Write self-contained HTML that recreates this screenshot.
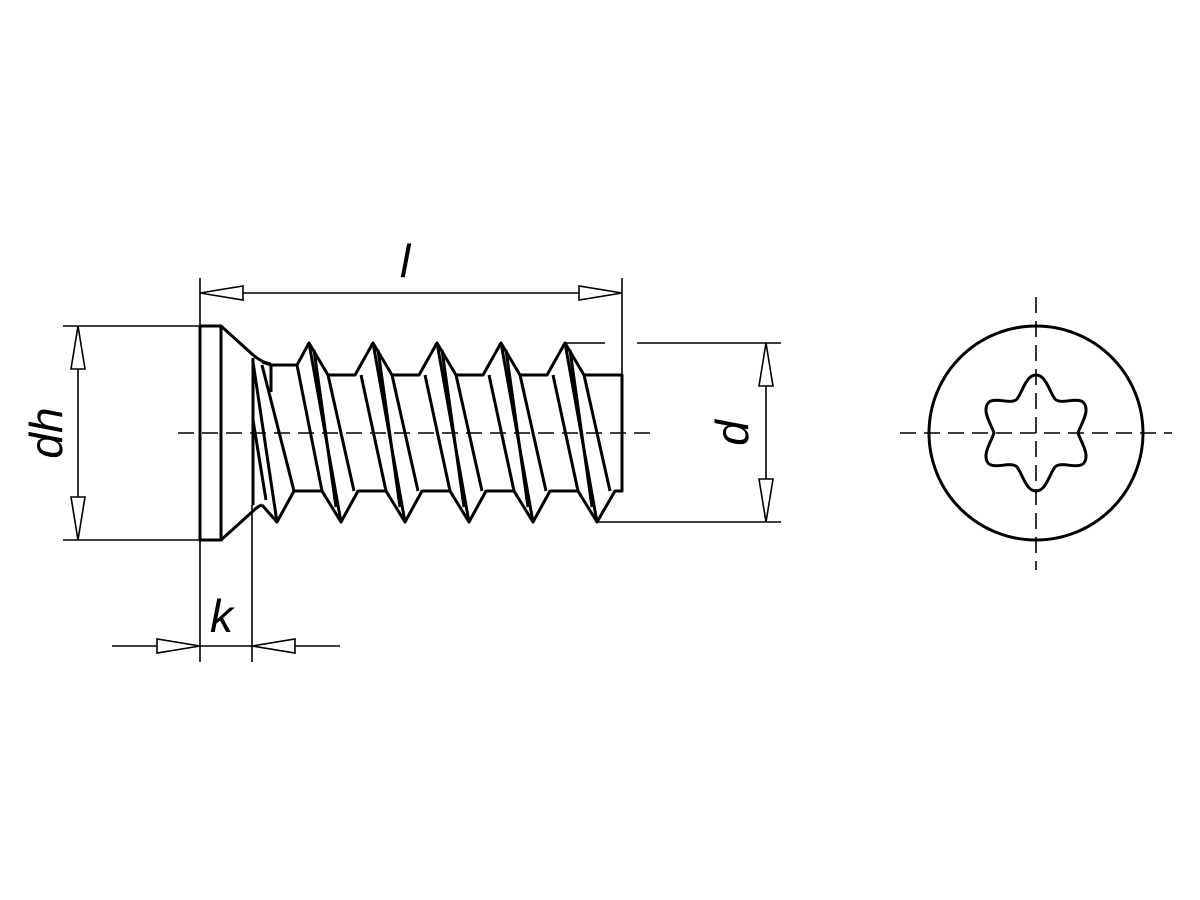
<!DOCTYPE html>
<html><head><meta charset="utf-8"><style>html,body{margin:0;padding:0;background:#fff;width:1200px;height:900px;overflow:hidden}svg{display:block}</style></head>
<body>
<svg width="1200" height="900" viewBox="0 0 1200 900" xmlns="http://www.w3.org/2000/svg">
<g fill="none" stroke="#000" stroke-width="1.6">
  <line x1="178" y1="433" x2="658" y2="433" stroke-dasharray="16,8"/>
  <line x1="900" y1="433" x2="1172" y2="433" stroke-dasharray="16,8"/>
  <line x1="1036" y1="297" x2="1036" y2="570" stroke-dasharray="16,8"/>
  <line x1="200" y1="278" x2="200" y2="662"/>
  <line x1="622" y1="278" x2="622" y2="375"/>
  <line x1="243" y1="293" x2="579" y2="293"/>
  <polygon points="200,293 243,286 243,300"/>
  <polygon points="622,293 579,286 579,300"/>
  <line x1="63" y1="326" x2="200" y2="326"/>
  <line x1="63" y1="540" x2="200" y2="540"/>
  <line x1="78" y1="369" x2="78" y2="497"/>
  <polygon points="78,326 71,369 85,369"/>
  <polygon points="78,540 71,497 85,497"/>
  <line x1="565" y1="343" x2="605" y2="343"/>
  <line x1="637" y1="343" x2="781" y2="343"/>
  <line x1="597" y1="522" x2="781" y2="522"/>
  <line x1="766" y1="386" x2="766" y2="479"/>
  <polygon points="766,343 759,386 773,386"/>
  <polygon points="766,522 759,479 773,479"/>
  <line x1="252" y1="505" x2="252" y2="662"/>
  <line x1="112" y1="646" x2="157" y2="646"/>
  <line x1="200" y1="646" x2="252" y2="646"/>
  <line x1="295" y1="646" x2="340" y2="646"/>
  <polygon points="200,646 157,639 157,653"/>
  <polygon points="252,646 295,639 295,653"/>
</g>
<g fill="none" stroke="#000" stroke-width="3" stroke-linejoin="round">
  <polyline points="200,326 221,326 221,540 200,540 200,326"/>
  <path d="M221,326 L252,354 Q262,363 271,364"/>
  <path d="M221,540 L252,512 Q258,506 262,505"/>
  <line x1="253" y1="358" x2="253" y2="505"/>
  <line x1="271" y1="365" x2="271" y2="392"/>
  <polyline points="262,362 271,365 297,365 309,343 328,375 355,375 373,343 392,375 419,375 437,343 456,375 483,375 501,343 520,375 547,375 565,343 584,375 622,375 622,491 615,491 597,522 578,491 550,491 533,522 514,491 486,491 469,522 450,491 422,491 405,522 386,491 358,491 341,522 322,491 294,491 277,522 262,505"/>
  <line x1="253" y1="362" x2="277" y2="522"/>
  <line x1="262" y1="365" x2="294" y2="491"/>
  <line x1="253" y1="420" x2="266" y2="500"/>
  <line x1="297" y1="365" x2="322" y2="491"/><line x1="309" y1="343" x2="341" y2="522"/><line x1="314" y1="350" x2="336" y2="507"/><line x1="328" y1="375" x2="354" y2="491"/>
  <line x1="361" y1="375" x2="386" y2="491"/><line x1="373" y1="343" x2="405" y2="522"/><line x1="378" y1="350" x2="400" y2="507"/><line x1="392" y1="375" x2="418" y2="491"/>
  <line x1="425" y1="375" x2="450" y2="491"/><line x1="437" y1="343" x2="469" y2="522"/><line x1="442" y1="350" x2="464" y2="507"/><line x1="456" y1="375" x2="482" y2="491"/>
  <line x1="489" y1="375" x2="514" y2="491"/><line x1="501" y1="343" x2="533" y2="522"/><line x1="506" y1="350" x2="528" y2="507"/><line x1="520" y1="375" x2="546" y2="491"/>
  <line x1="553" y1="375" x2="578" y2="491"/><line x1="565" y1="343" x2="597" y2="522"/><line x1="570" y1="350" x2="592" y2="507"/><line x1="584" y1="375" x2="610" y2="491"/>
</g>
<circle cx="1036" cy="433" r="107" fill="none" stroke="#000" stroke-width="3"/>
<path id="tx" fill="none" stroke="#000" stroke-width="3" d="M1036,375 C1046,375 1049,391 1055,399 C1061,405 1075,397 1083,402 C1091,410 1081,424 1078,433 C1081,442 1091,456 1083,464 C1075,469 1061,461 1055,467 C1049,475 1046,491 1036,491 C1026,491 1023,475 1017,467 C1011,461 997,469 989,464 C981,456 991,442 994,433 C991,424 981,410 989,402 C997,397 1011,405 1017,399 C1023,391 1026,375 1036,375 Z"/>
<g font-family="Liberation Sans, sans-serif" font-style="italic" font-size="46" fill="#000">
  <text x="400" y="277">l</text>
  <text x="210" y="632">k</text>
  <text transform="translate(62,433) rotate(-90)" text-anchor="middle">dh</text>
  <text transform="translate(748,433) rotate(-90)" text-anchor="middle">d</text>
</g>
</svg>
</body></html>
